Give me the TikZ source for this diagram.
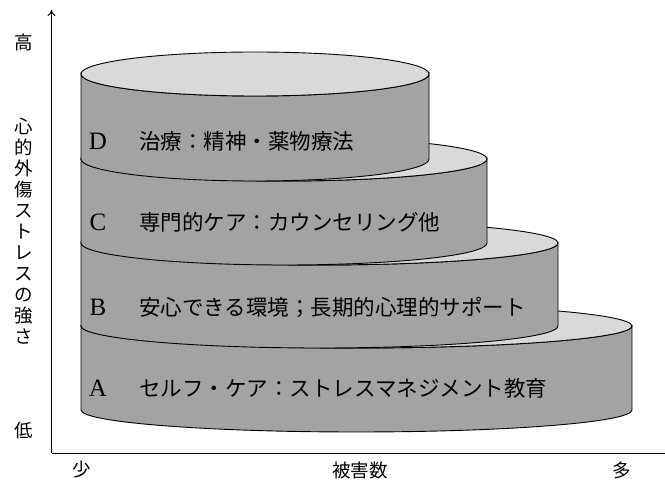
\documentclass[tikz,border=0pt]{standalone}
\usepackage{fontspec}
\setmainfont{Liberation Serif}
\newfontfamily\jp{Noto Sans CJK JP}
\usetikzlibrary{arrows.meta}
\newcommand\drawtier[3]{%
  \pgfmathsetmacro\trx{(#1-81)/2}%
  \pgfmathsetmacro\tcx{(#1+81)/2}%
  \draw[front] (81,#2) -- (81,#3)
    arc[start angle=180,end angle=360,x radius=\trx pt,y radius=22pt]
    -- (#1,#2)
    arc[start angle=0,end angle=-180,x radius=\trx pt,y radius=22pt] -- cycle;
  \draw[topface] (\tcx,#2) ellipse[x radius=\trx pt,y radius=22pt];
}
\begin{document}
\begin{tikzpicture}[x=1pt,y=1pt,
  front/.style={fill=black!36,draw=black,line width=0.9pt},
  topface/.style={fill=black!15,draw=black,line width=0.9pt},
  letter/.style={font=\fontsize{25}{25}\selectfont,inner sep=0pt},
  jptext/.style={font=\jp\fontsize{21.5}{22}\selectfont,inner sep=0pt,anchor=west},
  axislab/.style={font=\jp\fontsize{18.5}{21}\selectfont,inner sep=0pt},
  axisline/.style={line width=0.9pt}]
\useasboundingbox (0,0) rectangle (665,482);
% axes
\coordinate (o) at (51.5,29);
\coordinate (ytop) at (51.5,472);
\coordinate (xend) at (665,29);
\draw[axisline,-{To[length=6pt,width=8pt]}] (o) -- (ytop);
\draw[axisline] (o) -- (xend);
% tiers
\drawtier{632}{156}{72}
\drawtier{558}{239}{156}
\drawtier{487}{323}{239}
\drawtier{429}{408}{323}
% labels
\node[letter] (lD) at (98,341) {D};
\node[jptext] (tD) at (139,341) {治療：精神・薬物療法};
\node[letter] (lC) at (98,260) {C};
\node[jptext] (tC) at (139,260) {専門的ケア：カウンセリング他};
\node[letter] (lB) at (98,175) {B};
\node[jptext] (tB) at (139,175) {安心できる環境；長期的心理的サポート};
\node[letter] (lA) at (98,94) {A};
\node[jptext] (tA) at (139,94) {セルフ・ケア：ストレスマネジメント教育};
% axis labels
\node[axislab] (hi) at (24,440) {高};
\node[axislab,align=center,anchor=north] (ylab) at (24,364) {心\\的\\外\\傷\\ス\\ト\\レ\\ス\\の\\強\\さ};
\node[axislab] (lo) at (24,52) {低};
\node[axislab] (few) at (82,12) {少};
\node[axislab] (xlab) at (360,12) {被害数};
\node[axislab] (many) at (622,12) {多};
\end{tikzpicture}
\end{document}
